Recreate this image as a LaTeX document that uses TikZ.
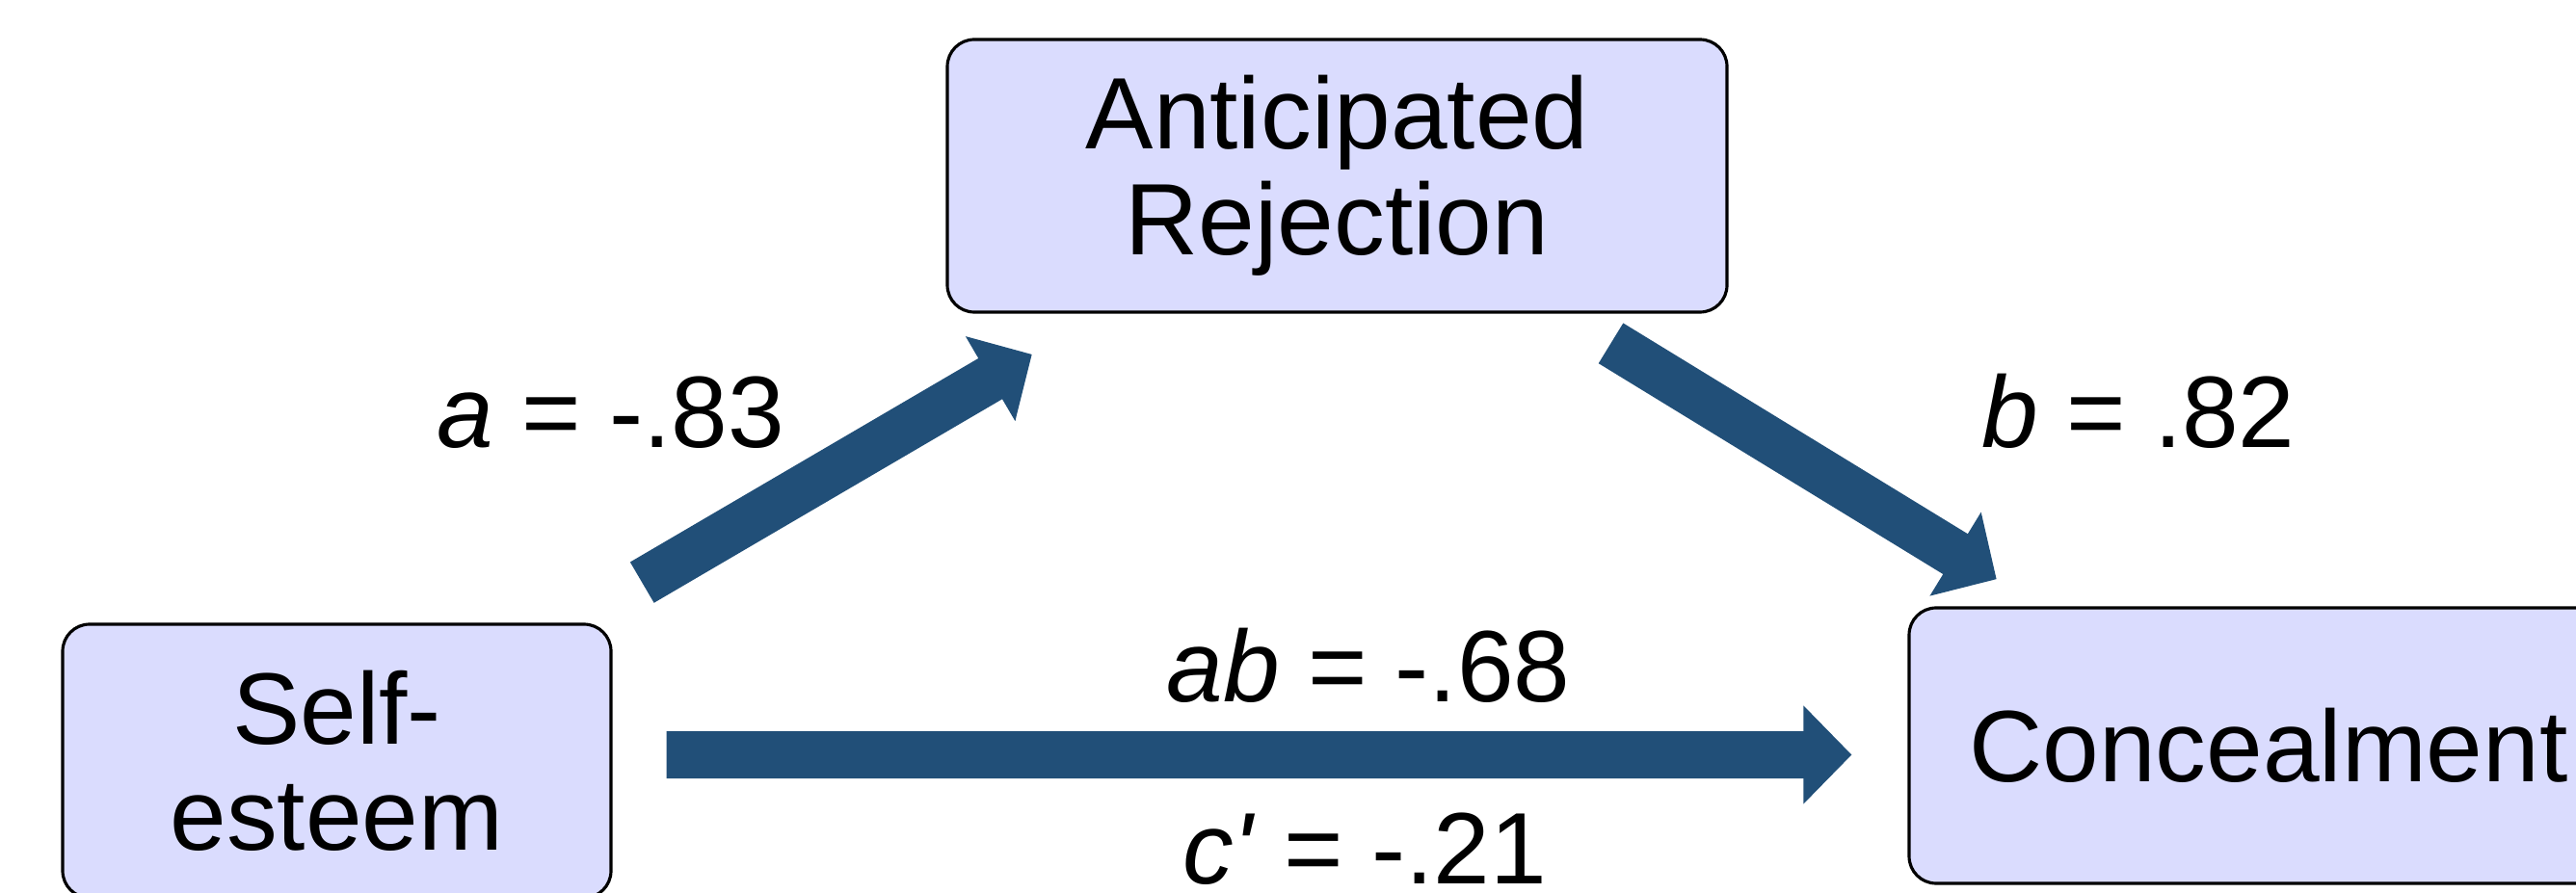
\documentclass[tikz,border=0pt]{standalone}
\usepackage{fontspec}
\setmainfont{Liberation Sans}
\usepackage{xcolor}
\usepackage{tikz}
\usetikzlibrary{arrows.meta}
\definecolor{boxfill}{RGB}{218,220,254}
\definecolor{pathblue}{RGB}{33,79,120}

\begin{document}
\begin{tikzpicture}[
  var/.style={draw,line width=0.9pt,fill=boxfill,rounded corners=0.28cm,inner sep=0pt,align=center,font=\fontsize{30}{31.3}\selectfont},
  coef/.style={anchor=base,inner sep=0pt,font=\fontsize{30}{31.3}\selectfont},
  path/.style={pathblue,line width=0.49cm,-{Triangle[length=0.5cm,width=0.99cm]}}]
\useasboundingbox (0,0) rectangle (26.73,-9.27);
\node[var,minimum width=8.09cm,minimum height=2.83cm] (ar) at (13.875,-1.825) {Anticipated\\Rejection};
\node[var,minimum width=5.69cm,minimum height=2.84cm] (se) at (3.495,-7.90) {Self-\\esteem};
\node[var,minimum width=7.46cm,minimum height=2.86cm] (co) at (23.54,-7.74) {Concealment};
\draw[path,shorten <=3.67cm,shorten >=3.67cm] (se.center) -- (ar.center);
\draw[path,shorten <=3.33cm,shorten >=3.31cm] (ar.center) -- (co.center);
\draw[path,shorten <=0.56cm,shorten >=0.58cm] ([yshift=0.065cm]se.east) -- ([yshift=-0.095cm]co.west);
\node[coef] (la)  at (6.34,-4.65)  {\textit{a} = -.83};
\node[coef] (lb)  at (22.19,-4.65) {\textit{b} = .82};
\node[coef] (lab) at (14.20,-7.28) {\textit{ab} = -.68};
\node[coef] (lc)  at (14.16,-9.17) {\textit{c\textquotesingle} = -.21};
\end{tikzpicture}
\end{document}
